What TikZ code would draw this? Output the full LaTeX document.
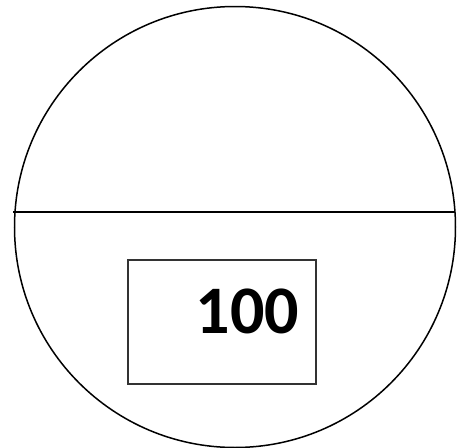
\documentclass[tikz,border=0pt]{standalone}
\usepackage{fontspec}
\newfontfamily\numfont{Carlito}
\begin{document}
\begin{tikzpicture}[x=1pt,y=1pt]

\useasboundingbox (0,0) rectangle (459,-448);

\node[draw,circle,line width=1.5pt,minimum size=441pt,inner sep=0pt] (disc) at (235,-227) {};

\coordinate (west) at (13,-212);
\coordinate (east) at (455,-212);
\draw[line width=1.1pt] (west) -- (east);

\node[draw=black!80,line width=1.1pt,minimum width=188pt,minimum height=124pt,inner sep=0pt] (box) at (222,-322) {};

\node[font=\numfont\bfseries\fontsize{68}{68}\selectfont,inner sep=0pt] (count) at (247.5,-311.5) {100};

\end{tikzpicture}
\end{document}
